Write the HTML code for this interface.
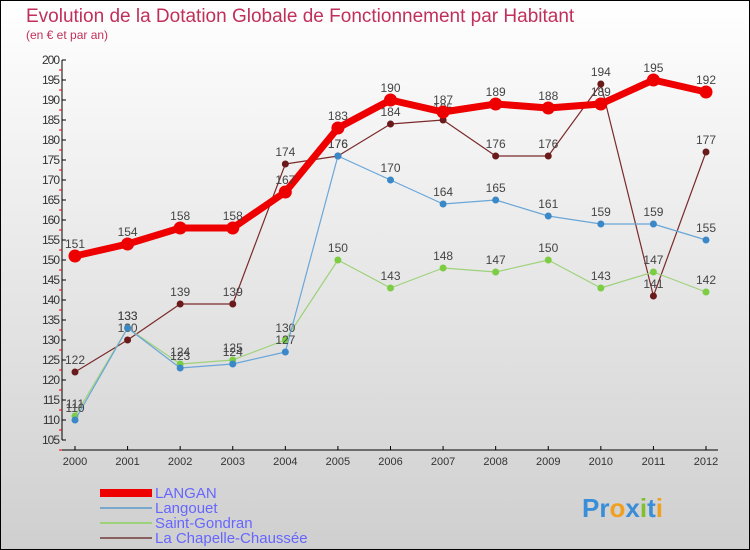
<!DOCTYPE html>
<html><head><meta charset="utf-8"><style>
body{margin:0}
svg{display:block;font-family:"Liberation Sans",sans-serif}
</style></head><body>
<svg id="c" width="750" height="550">
<defs><linearGradient id="bg" x1="0" y1="0" x2="0" y2="1"><stop offset="0" stop-color="#ffffff"/><stop offset="1" stop-color="#cfcfcf"/></linearGradient></defs>
<rect x="0.5" y="0.5" width="749" height="549" fill="url(#bg)" stroke="#000"/>
<text x="26" y="22" font-size="19" fill="#c0305a">Evolution de la Dotation Globale de Fonctionnement par Habitant</text>
<text x="26" y="39" font-size="12" fill="#c0305a">(en € et par an)</text>
<g id="axes"></g><g id="series"></g>
<g>
<rect x="100" y="489" width="52" height="8" fill="#e00"/>
<text x="155" y="498" font-size="15" fill="#6666ff">LANGAN</text>
<rect x="100" y="507" width="52" height="2" fill="#7aa7cc"/>
<text x="155" y="513" font-size="15" fill="#6666ff">Langouet</text>
<rect x="100" y="522" width="52" height="2" fill="#9ed27a"/>
<text x="155" y="528" font-size="15" fill="#6666ff">Saint-Gondran</text>
<rect x="100" y="537" width="52" height="2" fill="#8a6060"/>
<text x="155" y="543" font-size="15" fill="#6666ff">La Chapelle-Chaussée</text>
</g>
<g font-size="26" font-weight="bold">
<text x="582" y="517"><tspan fill="#3a8ed8">Pr</tspan><tspan fill="#f0a020">o</tspan><tspan fill="#3a8ed8">x</tspan><tspan fill="#80c030">i</tspan><tspan fill="#3a8ed8">t</tspan><tspan fill="#f0a020">i</tspan></text>
</g>
</svg>
<script>
const years=[2000,2001,2002,2003,2004,2005,2006,2007,2008,2009,2010,2011,2012];
const langan=[151,154,158,158,167,183,190,187,189,188,189,195,192];
const langouet=[110,133,123,124,127,176,170,164,165,161,159,159,155];
const gondran=[111,133,124,125,130,150,143,148,147,150,143,147,142];
const chapelle=[122,130,139,139,174,176,184,185,176,176,194,141,177];
const yTicks=[105,110,115,120,125,130,135,140,145,150,155,160,165,170,175,180,185,190,195,200];
const NS="http://www.w3.org/2000/svg";
const X=i=>75+i*(706-75)/12;
const Y=v=>60+(200-v)*4;
function mk(t,a,p){const e=document.createElementNS(NS,t);for(const k in a)e.setAttribute(k,a[k]);p.appendChild(e);return e;}
const ax=document.getElementById('axes');
let yl=mk('line',{x1:62,y1:60,x2:62,y2:440,stroke:'#000'},ax);


let xl=mk('line',{x1:62,y1:450,x2:718,y2:450,stroke:'#000'},ax);


yTicks.forEach(v=>{
 mk('line',{x1:62,y1:Y(v),x2:66,y2:Y(v),stroke:'#000'},ax);
 mk('line',{x1:59,y1:Y(v)+10,x2:62,y2:Y(v)+10,stroke:'#e00'},ax);
 const t=mk('text',{x:59,y:Y(v)+4,'text-anchor':'end','font-size':12,fill:'#333','letter-spacing':'-1'},ax);
 t.textContent=v;
 
 
});
years.forEach((y,i)=>{
 mk('line',{x1:X(i),y1:446,x2:X(i),y2:450,stroke:'#000'},ax);
 const t=mk('text',{x:X(i),y:465,'text-anchor':'middle','font-size':11,fill:'#333'},ax);
 t.textContent=y;
 
 
});
const sg=document.getElementById('series');
function draw(vals,color,dot,w,r,name){
 const g=mk('g',{},sg);
 
 
 mk('polyline',{points:vals.map((v,i)=>X(i)+','+Y(v)).join(' '),fill:'none',stroke:color,'stroke-width':w,'stroke-linejoin':'round'},g);
 vals.forEach((v,i)=>{
  const c=mk('circle',{cx:X(i),cy:Y(v),r:r,fill:dot},g);
  
  
  const t=mk('text',{x:X(i),y:Y(v)-8,'text-anchor':'middle','font-size':12,fill:'#444'},g);
  t.textContent=v;
  
  
 });
}
draw(chapelle,'#7a2a2a','#6a1a1a',1.2,3.5,'series-la-chapelle');
draw(gondran,'#9ed27a','#7ccc44',1.2,3.5,'series-saint-gondran');
draw(langouet,'#6aa6d8','#3a88c8',1.2,3.5,'series-langouet');
draw(langan,'#ee0000','#ee0000',7,6.5,'series-langan');
</script>
</body></html>
